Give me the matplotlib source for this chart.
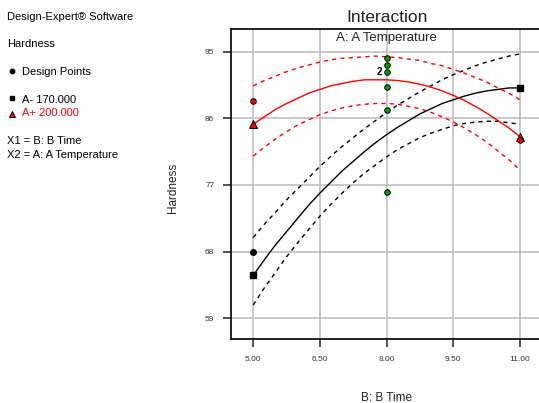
import matplotlib
matplotlib.use("Agg")
import matplotlib.pyplot as plt
import numpy as np

# B: Time grid the curves were read at
b_time = [5.0, 5.25, 5.5, 5.75, 6.0, 6.25, 6.5, 6.75, 7.0, 7.25, 7.5, 7.75, 8.0,
          8.25, 8.5, 8.75, 9.0, 9.25, 9.5, 9.75, 10.0, 10.25, 10.5, 10.75, 11.0]

# A- 170.000 (black) prediction and confidence band
low_mean = [64.8, 66.9, 68.9, 70.7, 72.5, 74.3, 75.9, 77.4, 78.9, 80.2, 81.5, 82.7, 83.8,
            84.8, 85.7, 86.6, 87.3, 88.0, 88.5, 89.0, 89.4, 89.7, 89.9, 90.1, 90.1]
low_upper = [69.9, 71.7, 73.3, 75.0, 76.5, 78.0, 79.5, 80.9, 82.2, 83.4, 84.6, 85.7, 86.8,
             87.8, 88.7, 89.6, 90.4, 91.2, 91.9, 92.5, 93.1, 93.6, 94.0, 94.4, 94.7]
low_lower = [60.8, 63.1, 65.2, 67.3, 69.2, 71.0, 72.8, 74.4, 75.9, 77.3, 78.6, 79.7, 80.8,
             81.8, 82.6, 83.4, 84.0, 84.5, 85.0, 85.3, 85.5, 85.6, 85.6, 85.4, 85.2]

# A+ 200.000 (red) prediction and confidence band
high_mean = [85.2, 86.2, 87.2, 88.0, 88.7, 89.4, 89.9, 90.4, 90.7, 91.0, 91.2, 91.2, 91.2,
             91.1, 90.9, 90.6, 90.2, 89.7, 89.1, 88.4, 87.6, 86.7, 85.7, 84.7, 83.5]
high_upper = [90.4, 91.1, 91.7, 92.3, 92.8, 93.2, 93.6, 93.9, 94.1, 94.2, 94.3, 94.4, 94.3,
              94.2, 94.0, 93.8, 93.4, 93.1, 92.6, 92.1, 91.5, 90.9, 90.1, 89.4, 88.5]
high_lower = [80.9, 82.1, 83.2, 84.2, 85.1, 85.8, 86.5, 87.0, 87.4, 87.7, 87.9, 88.0, 88.0,
              87.9, 87.6, 87.3, 86.8, 86.2, 85.5, 84.7, 83.8, 82.8, 81.6, 80.4, 79.0]

# design points
low_pts_x = [5.0]
low_pts_y = [68.0]
high_pts_x = [5.0, 11.0]
high_pts_y = [88.3, 83.1]
center_pts_x = [8.0, 8.0, 8.0, 8.0, 8.0, 8.0]
center_pts_y = [94.2, 93.2, 92.2, 90.2, 87.1, 76.1]

x_ticks = [5.0, 6.5, 8.0, 9.5, 11.0]
y_ticks = [59, 68, 77, 86, 95]

W, H = 539, 403
fig = plt.figure(figsize=(W / 100, H / 100), dpi=100)
plt.rcParams['font.family'] = ['Liberation Sans', 'DejaVu Sans']

# axes box in pixels: left 231, top 28.7, bottom 339, right past the edge
left, top, bottom = 231, 28.7, 339
xmin, xmax = 4.5, 11.5
px_per_x = 66.7 / 1.5
right = left + (xmax - xmin) * px_per_x
ax = fig.add_axes([left / W, 1 - bottom / H, (right - left) / W, (bottom - top) / H])
ax.set_xlim(xmin, xmax)
ax.set_ylim(56.2, 98.1)

ax.set_xticks(x_ticks)
ax.set_xticklabels(["%.2f" % v for v in x_ticks])
ax.set_yticks(y_ticks)
ax.set_yticklabels([str(v) for v in y_ticks])
ax.grid(True, color="#c4c4c4", linewidth=1.3)
ax.set_axisbelow(True)
ax.tick_params(direction="out", length=6, width=1.2, color="#333333",
               labelsize=6, labelcolor="#333333", pad=6)
for s in ["left", "bottom", "top"]:
    ax.spines[s].set_color("black")
    ax.spines[s].set_linewidth(1.2)
ax.spines["right"].set_visible(False)

dash = (0, (3, 3))
ax.plot(b_time, low_mean, color="black", lw=1.0, zorder=3)
ax.plot(b_time, low_upper, color="black", lw=1.0, linestyle=dash, zorder=3)
ax.plot(b_time, low_lower, color="black", lw=1.0, linestyle=dash, zorder=3)
ax.plot(b_time, high_mean, color="red", lw=1.0, zorder=3)
ax.plot(b_time, high_upper, color="red", lw=1.0, linestyle=dash, zorder=3)
ax.plot(b_time, high_lower, color="red", lw=1.0, linestyle=dash, zorder=3)

# end markers on the prediction lines
ax.plot([b_time[0], b_time[-1]], [low_mean[0], low_mean[-1]], "s", color="black",
        markersize=4.5, zorder=5, clip_on=False)
ax.plot([b_time[0], b_time[-1]], [high_mean[0], high_mean[-1]], "^", color="red",
        markeredgecolor="black", markeredgewidth=0.7, markersize=5.2, zorder=5, clip_on=False)

ax.plot(low_pts_x, low_pts_y, "o", color="black", markersize=4, zorder=6)
ax.plot(high_pts_x, high_pts_y, "o", color="red", markeredgecolor="black",
        markeredgewidth=0.7, markersize=4, zorder=6)
ax.plot(center_pts_x, center_pts_y, "o", color="#00a000", markeredgecolor="black",
        markeredgewidth=0.7, markersize=4, zorder=6)
ax.annotate("2", (center_pts_x[2], center_pts_y[2]), xytext=(-3.5, 0),
            textcoords="offset points", ha="right", va="center", fontsize=7,
            fontweight="bold", zorder=7)

ax.text(0.5, 0.989, "A: A Temperature", transform=ax.transAxes, ha="center",
        va="top", fontsize=9.5, color="#222222")


def ftext(x, y, s, **kw):
    fig.text(x / W, 1 - y / H, s, **kw)


ax_cx = (left + right) / 2
ftext(ax_cx, 17, "Interaction", ha="center", va="center", fontsize=12.5, color="#222222")
ftext(ax_cx, 398, "B: B Time", ha="center", va="center", fontsize=8.5, color="#222222")
ftext(173, 188, "Hardness", ha="center", va="center", rotation=90, fontsize=8.5,
      color="#222222")

ftext(7, 17, "Design-Expert\u00ae Software", ha="left", va="center", fontsize=8)
ftext(7, 44, "Hardness", ha="left", va="center", fontsize=8)
ftext(22, 72, "Design Points", ha="left", va="center", fontsize=8)
ftext(22, 100, "A- 170.000", ha="left", va="center", fontsize=8)
ftext(22, 113, "A+ 200.000", ha="left", va="center", fontsize=8, color="red")
ftext(7, 141, "X1 = B: B Time", ha="left", va="center", fontsize=8)
ftext(7, 155, "X2 = A: A Temperature", ha="left", va="center", fontsize=8)

# legend symbols
lax = fig.add_axes([0, 0, 1, 1], facecolor="none")
lax.set_xlim(0, W)
lax.set_ylim(H, 0)
lax.axis("off")
lax.plot([12], [71], "o", color="black", markersize=3.2)
lax.plot([12], [98], "s", color="black", markersize=3.2)
lax.plot([12], [114], "^", color="red", markeredgecolor="black", markeredgewidth=0.7,
         markersize=4)

fig.savefig("out.png", dpi=100)
